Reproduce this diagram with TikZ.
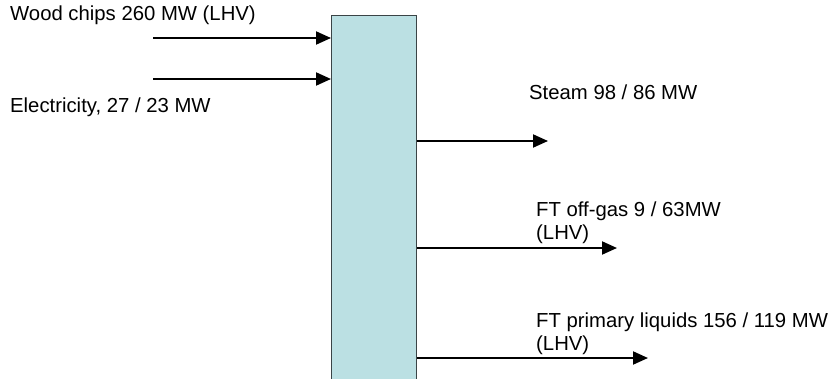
\documentclass[tikz,border=0pt]{standalone}
\usepackage{fontspec}
\setmainfont{Liberation Sans}
\usetikzlibrary{arrows.meta}
\definecolor{boxfill}{HTML}{BBE0E3}
\definecolor{boxline}{HTML}{3A4446}
\begin{document}
\begin{tikzpicture}[x=1pt,y=-1pt,
  lbl/.style={anchor=base west,inner sep=0pt,font=\fontsize{20.3}{23}\selectfont,align=left},
  arr/.style={line width=2pt,-{Triangle[length=15pt,width=13pt]}},
  unitbox/.style={draw=boxline,fill=boxfill,line width=1pt,minimum width=85pt,minimum height=366pt,inner sep=0pt,anchor=north west}]
\useasboundingbox (0,0) rectangle (834,378);
\node[unitbox] (unit) at (331,15) {};
% inputs
\coordinate (woodStart) at (153,38);
\coordinate (elecStart) at (153,79);
\draw[arr] (woodStart) -- (unit.west |- woodStart);
\draw[arr] (elecStart) -- (unit.west |- elecStart);
\node[lbl] (woodlbl) at (10,20) {Wood chips 260 MW (LHV)};
\node[lbl] (eleclbl) at (10,112) {Electricity, 27 / 23 MW};
% outputs
\coordinate (steamEnd) at (548,141);
\coordinate (offEnd) at (617,248);
\coordinate (liqEnd) at (648,358);
\draw[arr] (unit.east |- steamEnd) -- (steamEnd);
\draw[arr] (unit.east |- offEnd) -- (offEnd);
\draw[arr] (unit.east |- liqEnd) -- (liqEnd);
\node[lbl] (steamlbl) at (529,99) {Steam 98 / 86 MW};
\node[lbl] (offlbl) at (536,239) {FT off-gas 9 / 63MW\\(LHV)};
\node[lbl] (liqlbl) at (536,350) {FT primary liquids 156 / 119 MW\\(LHV)};
\end{tikzpicture}
\end{document}
